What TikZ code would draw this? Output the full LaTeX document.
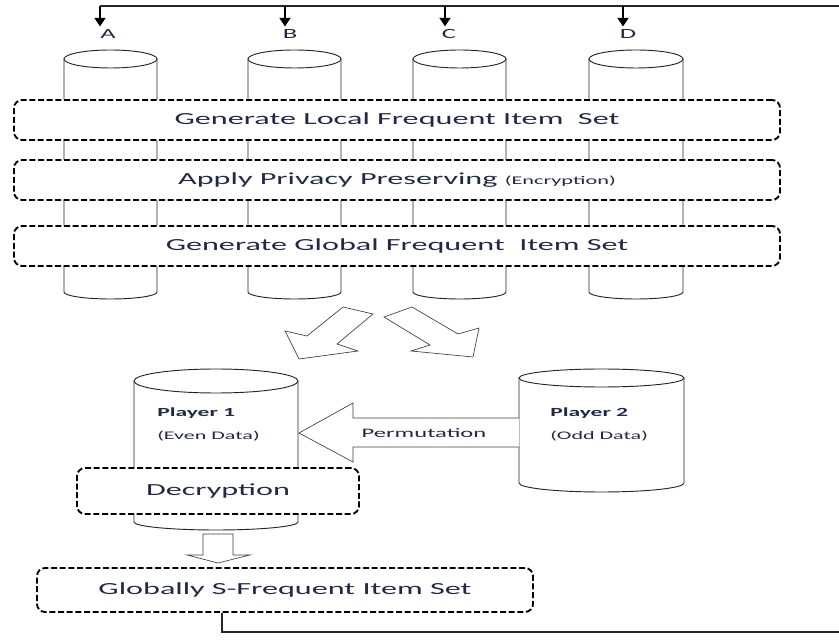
\documentclass[tikz,border=0pt]{standalone}
\usepackage{fontspec}
\setmainfont{Carlito}
\usepackage{graphicx}
\usetikzlibrary{arrows.meta}
\definecolor{ink}{RGB}{32,42,72}
\newcommand\wide[1]{\scalebox{1.9}[1]{#1}}
\newcommand\drum[6]{%
  \draw[drumline] (#1,#3) -- (#1,#4) arc[start angle=180, end angle=360, x radius={(#2-#1)*0.375pt}, y radius={#6*0.75pt}] -- (#2,#3);
  \draw[drumline] ({(#1+#2)/2},#3) ellipse [x radius={(#2-#1)*0.375pt}, y radius={#5*0.75pt}];}
\tikzset{
  drumline/.style={draw=black!85, line width=0.7pt},
  stagebox/.style={draw=black, rounded corners=6pt, fill=white, line width=1.4pt, dash pattern=on 4.5pt off 2pt, text=ink, font=\fontsize{12.7}{15}\selectfont},
  hollow/.style={draw=black!75, line width=0.5pt, fill=white},
  feed/.style={draw=black!85, line width=0.9pt},
  drop/.style={-{Triangle[width=8pt,length=6.5pt]}, line width=1.8pt},
  letter/.style={text=ink, font=\fontsize{10.5}{12}\selectfont, inner sep=0pt},
  tag/.style={text=ink, inner sep=0pt, anchor=west},
}
\begin{document}
\begin{tikzpicture}[x=0.75pt, y=-0.75pt]
\useasboundingbox (0,0) rectangle (839,641);
\drum{64}{157}{59}{292}{9}{7}
\drum{248}{341}{59}{292}{9}{7}
\drum{413}{506}{59}{292}{9}{7}
\drum{589}{683}{59}{292}{9}{7}
\drum{134}{298}{381}{522}{12}{8}
\drum{519}{684}{378}{483}{9}{9}
\node[stagebox, minimum width=574.5pt, minimum height=30pt] (local) at (397,120) {\wide{Generate Local Frequent Item\ \ Set}};
\node[stagebox, minimum width=574.5pt, minimum height=30pt] (privacy) at (397,180) {\wide{Apply Privacy Preserving \fontsize{8.8}{10}\selectfont(Encryption)}};
\node[stagebox, minimum width=574.5pt, minimum height=30pt] (globalset) at (397,246) {\wide{Generate Global Frequent\ \ Item Set}};
\node[letter] (la) at (108,34) {\wide{A}};
\node[letter] (lb) at (290,34) {\wide{B}};
\node[letter] (lc) at (449,34) {\wide{C}};
\node[letter] (ld) at (628,34) {\wide{D}};
\coordinate (ta) at (100,6);
\coordinate (tb) at (285,6);
\coordinate (tc) at (445,6);
\coordinate (td) at (623,6);
\coordinate (edge) at (839,6);
\draw[feed] (ta) -- (edge);
\draw[drop, shorten >=2pt] (ta) -- (ta |- la.north);
\draw[drop, shorten >=2pt] (tb) -- (tb |- lb.north);
\draw[drop, shorten >=2pt] (tc) -- (tc |- lc.north);
\draw[drop, shorten >=2pt] (td) -- (td |- ld.north);
\draw[hollow] (373,314) -- (343,307) -- (307,336) -- (285,331) -- (299,359) -- (358,351) -- (337,344) -- cycle;
\draw[hollow] (384,317) -- (412,307) -- (458,334) -- (479,328) -- (473,357) -- (411,351) -- (430,345) -- cycle;
\draw[hollow] (519,418) -- (353,418) -- (353,403) -- (299,433) -- (353,462) -- (353,447) -- (519,447);
\node[tag, font=\bfseries\fontsize{9.3}{11}\selectfont] (p1) at (157,413) {\wide{Player 1}};
\node[tag, font=\fontsize{8.7}{10}\selectfont] (p1d) at (157,436) {\wide{(Even Data)}};
\node[tag, font=\bfseries\fontsize{9.3}{11}\selectfont] (p2) at (550,413) {\wide{Player 2}};
\node[tag, font=\fontsize{8.7}{10}\selectfont] (p2d) at (550,436) {\wide{(Odd Data)}};
\node[text=ink, font=\fontsize{9.7}{11}\selectfont, inner sep=0pt] (perm) at (424,433) {\wide{Permutation}};
\node[stagebox, minimum width=211.5pt, minimum height=34.5pt] (decrypt) at (218,491) {\wide{Decryption}};
\draw[hollow] (203,534) -- (203,555) -- (187,555) -- (218,563) -- (250,555) -- (233,555) -- (233,534) -- cycle;
\node[stagebox, minimum width=372pt, minimum height=33pt] (globally) at (285,590) {\wide{Globally S-Frequent Item Set}};
\coordinate (back) at (222,632);
\coordinate (out) at (839,632);
\draw[feed] (globally.south -| back) -- (back) -- (out);
\end{tikzpicture}
\end{document}
